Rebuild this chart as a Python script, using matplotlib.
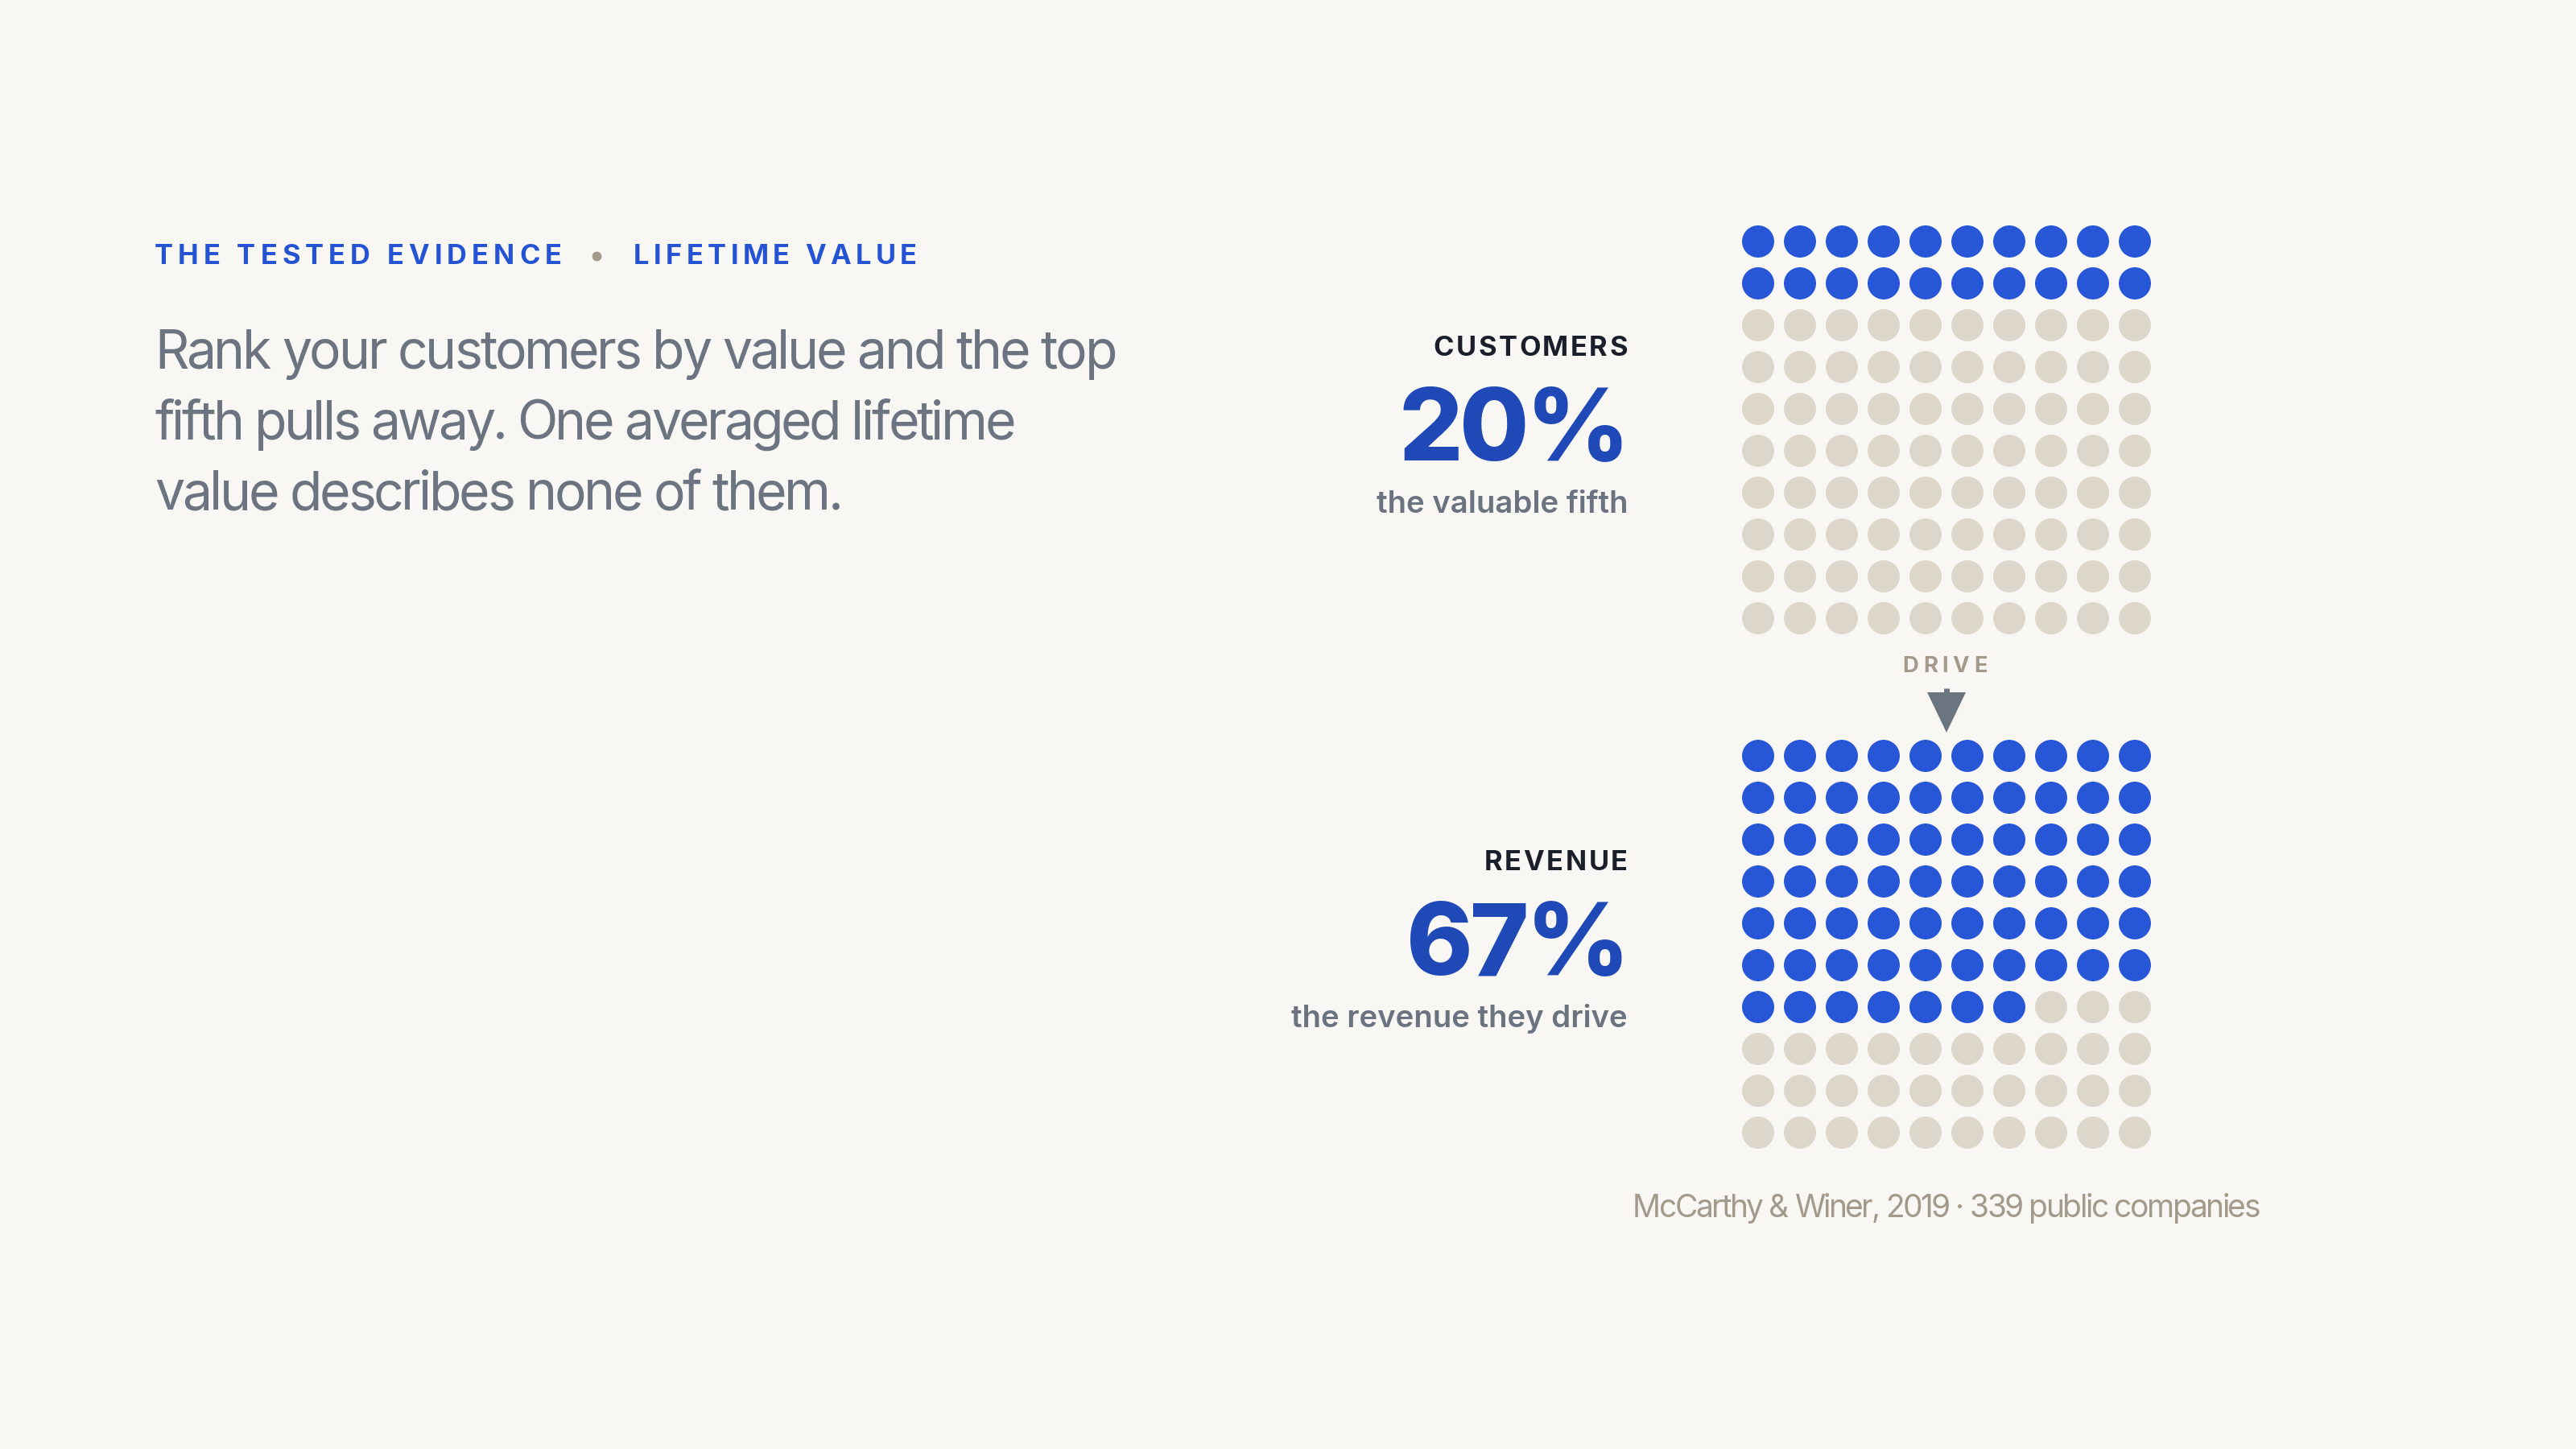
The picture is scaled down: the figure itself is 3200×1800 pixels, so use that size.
import numpy as np
import matplotlib
matplotlib.use('Agg')
from matplotlib import pyplot as plt
from matplotlib.font_manager import FontProperties, findfont, get_font
from matplotlib.patches import Polygon

# data
panel_labels = ['CUSTOMERS', 'REVENUE']
panel_values = [20, 67]
panel_captions = ['the valuable fifth', 'the revenue they drive']
grid_rows, grid_cols = 10, 10
kicker = ['THE TESTED EVIDENCE', 'LIFETIME VALUE']
body = ['Rank your customers by value and the top',
        'fifth pulls away. One averaged lifetime',
        'value describes none of them.']
source = 'McCarthy & Winer, 2019 \u00b7 339 public companies'
connector = 'DRIVE'

DPI = 200
BG = '#f9f7f3'
BLUE = '#2757d6'
DEEP = '#1f49b6'
BEIGE = '#ddd7cb'
INK = '#1a1f2b'
GREY = '#6b7280'
TAN = '#a39a8c'

plt.rcParams['font.family'] = ['Inter', 'DejaVu Sans']

fig = plt.figure(figsize=(16, 9), dpi=DPI, facecolor=BG)
ax = fig.add_axes([0, 0, 1, 1])
ax.set_xlim(0, 3200)
ax.set_ylim(1800, 0)
ax.axis('off')
ax.set_facecolor(BG)


def tracked(x, y, s, size, weight, color, width=None, track=0.0, ha='left'):
    # draw text one glyph at a time so letter spacing can be set
    fp = FontProperties(family='Inter', weight=weight, size=size)
    font = get_font(findfont(fp))
    font.set_size(size, DPI)
    adv = [font.load_char(ord(c)).linearHoriAdvance / 65536 for c in s]
    if width is not None and len(s) > 1:
        track = (width - sum(adv)) / (len(s) - 1)
    total = sum(adv) + track * (len(s) - 1)
    if ha == 'right':
        x = x - total
    elif ha == 'center':
        x = x - total / 2
    for c, a in zip(s, adv):
        ax.text(x + a / 2, y, c, fontproperties=fp, color=color,
                ha='center', va='baseline')
        x += a + track


# kicker line
tracked(192, 328, kicker[0], 12.4, 'bold', '#2453d4', width=506)
ax.scatter([741], [318], s=18, color=TAN, lw=0)
tracked(787, 328, kicker[1], 12.4, 'bold', '#2453d4', width=352)

# body copy (tight tracking)
body_widths = [1196, 1070, 856]
for i, line in enumerate(body):
    tracked(192, 458 + i * 87.5, line, 23.8, 'normal', '#6b7480',
            width=body_widths[i])

# dot grids
x0, pitch = 2184, 52
tops = [300, 939]
cols = np.arange(grid_cols)
rows = np.arange(grid_rows)
for top, label, val, cap in zip(tops, panel_labels, panel_values, panel_captions):
    cc, rr = np.meshgrid(cols, rows)
    idx = (rr * grid_cols + cc).ravel()
    colors = np.where(idx < val, BLUE, BEIGE)
    ax.scatter(x0 + cc.ravel() * pitch, top + rr.ravel() * pitch,
               s=207, c=colors, lw=0)
    tracked(2022, top + 142, label, 12.4, 'bold', INK, track=2.6, ha='right')
    tracked(2024, top + 272, f'{val}%', 45, 800, DEEP, track=-4,
            ha='right')
    ax.text(2022, top + 337, cap, fontsize=13.8, fontweight='semibold',
            color=GREY, ha='right', va='baseline')

# connector between grids
cx = x0 + (grid_cols - 1) * pitch / 2
tracked(cx - 2, 835, connector, 9.9, 'bold', TAN, width=105, ha='center')
ax.add_patch(Polygon([[cx - 24, 860], [cx + 24, 860], [cx, 910]],
                     closed=True, color='#6b7580', lw=0))
ax.plot([cx, cx], [855, 862], color='#6b7580', lw=2.5, solid_capstyle='butt')

# source note
tracked(cx, 1512, source, 14, 'normal', TAN, width=780, ha='center')

fig.savefig('out.png', dpi=DPI, facecolor=BG)
